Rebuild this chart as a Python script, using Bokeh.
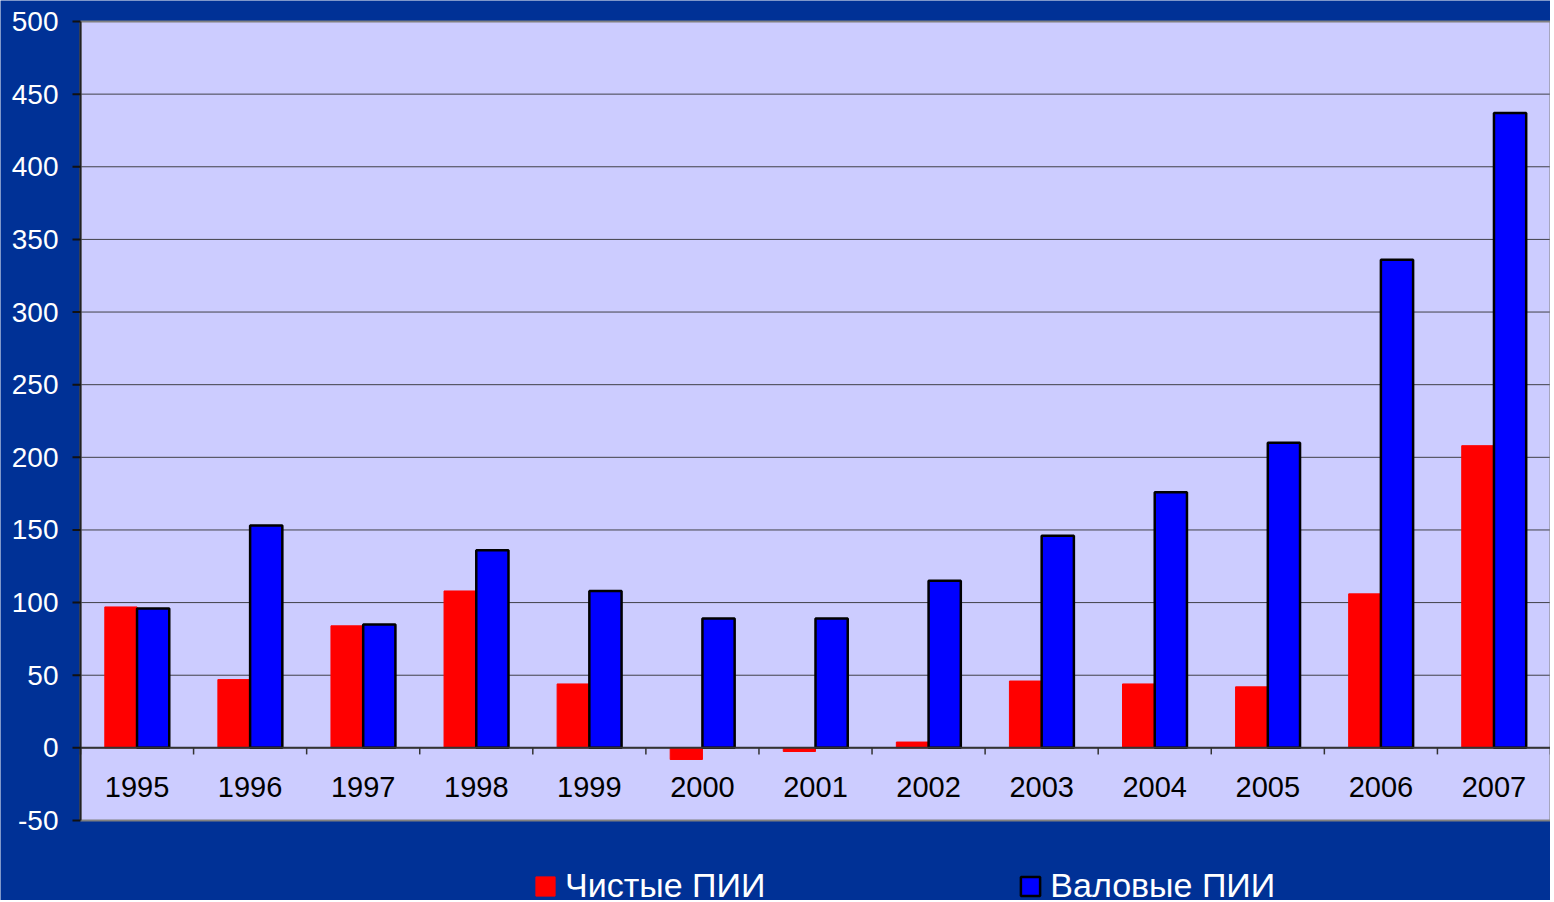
from bokeh.plotting import figure
from bokeh.models import Range1d, Legend, LegendItem
from bokeh.core.properties import value
from bokeh.embed import file_html
from bokeh.resources import INLINE

years = ["1995", "1996", "1997", "1998", "1999", "2000", "2001",
         "2002", "2003", "2004", "2005", "2006", "2007"]
net_fdi = [97, 47, 84, 108, 44, -8, -2.5, 4, 46, 44, 42, 106, 208]
gross_fdi = [96, 153, 85, 136, 108, 89, 89, 115, 146, 176, 210, 336, 437]
y_ticks = [-50, 0, 50, 100, 150, 200, 250, 300, 350, 400, 450, 500]
series_names = ["Чистые ПИИ", "Валовые ПИИ"]

FONT = "Liberation Sans"
BG = "#003196"
n = len(years)
bw = 0.285
centers = [i + 0.5 for i in range(n)]
red_x = [c - bw / 2 for c in centers]
blue_x = [c + bw / 2 for c in centers]
bounds = list(range(n + 1))
y_lo, y_hi = y_ticks[0], y_ticks[-1]

# layout (pixels): whole figure is the frame; value area inset
W, H = 1550, 900
LEFT, TOP, BOTTOM = 80, 21, 80
ppx = (W - LEFT) / n
ppy = (H - TOP - BOTTOM) / (y_hi - y_lo)
x_start = -LEFT / ppx
y_end = y_hi + TOP / ppy
y_start = y_lo - BOTTOM / ppy
tick_len = 8 / ppx

p = figure(width=W, height=H, output_backend="svg", toolbar_location=None,
           x_range=Range1d(x_start, n), y_range=Range1d(y_start, y_end),
           x_axis_location=None, y_axis_location=None,
           min_border=0)
p.background_fill_color = BG
p.border_fill_color = BG
p.outline_line_color = None
p.grid.visible = False

# lavender value area
p.quad(left=[0], right=[n], bottom=[y_lo], top=[y_hi], fill_color="#CCCCFF", line_color=None)

# horizontal gridlines
p.segment(x0=[0] * len(y_ticks), x1=[n] * len(y_ticks), y0=y_ticks, y1=y_ticks,
          line_color="#404048", line_width=1)

r_red = p.vbar(x=red_x, top=net_fdi, bottom=0, width=bw,
               fill_color="#FF0000", line_color="#FF0000", line_width=1)
r_blue = p.vbar(x=blue_x, top=gross_fdi, bottom=0, width=bw,
                fill_color="#0000FF", line_color="black", line_width=2.5)

# plot-area border
p.quad(left=[0], right=[n], bottom=[y_lo], top=[y_hi], fill_color=None,
       line_color="#808080", line_width=2)

# zero line and category separator ticks
p.segment(x0=[0], x1=[n], y0=[0], y1=[0], line_color="#333333", line_width=2)
p.segment(x0=bounds, x1=bounds, y0=[0] * len(bounds), y1=[-4.5] * len(bounds),
          line_color="#333333", line_width=1.5)

# left value axis: line, ticks, labels
p.segment(x0=[0], x1=[0], y0=[y_lo], y1=[y_hi], line_color="#222222", line_width=2)
p.segment(x0=[-tick_len] * len(y_ticks), x1=[0] * len(y_ticks), y0=y_ticks, y1=y_ticks,
          line_color="#111111", line_width=2)
p.text(x=[0] * len(y_ticks), y=y_ticks, text=[str(t) for t in y_ticks], x_offset=-22,
       text_align="right", text_baseline="middle", text_color="white",
       text_font=value(FONT), text_font_size="28px")

# category labels
p.text(x=centers, y=[-27] * n, text=years, text_align="center", text_baseline="middle",
       text_color="black", text_font=value(FONT), text_font_size="29px")

legend = Legend(items=[LegendItem(label=series_names[0], renderers=[r_red]),
                       LegendItem(label=series_names[1], renderers=[r_blue])],
                orientation="horizontal", location=(LEFT + 453, -5),
                glyph_width=24, glyph_height=24, label_height=36,
                label_standoff=8, spacing=253,
                padding=0, margin=0,
                label_text_color="white", label_text_font=FONT, label_text_font_size="34px",
                background_fill_alpha=0, border_line_alpha=0)
p.add_layout(legend, "center")

open("out.html", "w").write(file_html(p, INLINE))
